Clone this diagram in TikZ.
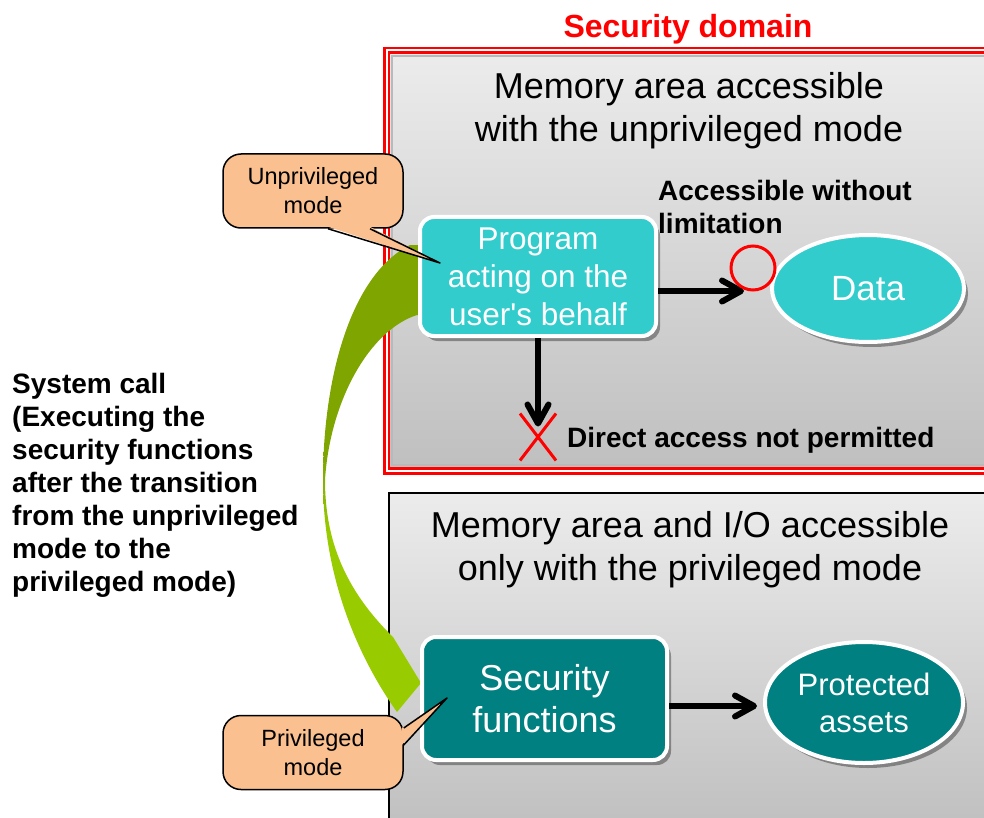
\documentclass[tikz,border=0pt]{standalone}
\usepackage{fontspec}
\setmainfont{Liberation Sans}
\usepackage{tikz}
\usetikzlibrary{arrows.meta,positioning,shapes.geometric,shapes.misc,shadows}
\definecolor{progcyan}{HTML}{33CCCC}
\definecolor{secteal}{HTML}{008080}
\definecolor{peach}{HTML}{FAC090}
\definecolor{callolive}{HTML}{7FA600}
\definecolor{calllime}{HTML}{99CC00}
\pgfdeclareverticalshading{sysband}{100bp}{color(0bp)=(calllime); color(44bp)=(calllime); color(52bp)=(callolive); color(100bp)=(callolive)}

\begin{document}
\begin{tikzpicture}[x=1pt,y=-1pt,>={Straight Barb[length=19pt,width=21pt,round]},
  area/.style={top color=gray!15,bottom color=gray!50},
  ttl/.style={align=center,inner sep=0,font=\fontsize{36}{43}\selectfont},
  lbl/.style={align=left,inner sep=0,font=\fontsize{28}{33}\selectfont\bfseries},
  shd/.style={drop shadow={shadow xshift=4pt,shadow yshift=-5pt,fill=black,opacity=.35}},
  prc/.style={shd,draw=white,line width=4pt,rounded corners=14pt,text=white,align=center},
  dat/.style={shd,ellipse,draw=white,line width=4pt,inner sep=0,text=white,align=center},
  arr/.style={->,line width=6pt,preaction={draw=black,opacity=.3,transform canvas={xshift=2pt,yshift=-2pt}}},
  bub/.style={draw,fill=peach,line width=1.5pt,line join=round,rounded corners=18pt,minimum width=180pt,minimum height=74pt,align=center,font=\fontsize{23.5}{29}\selectfont}]
\useasboundingbox (0,0) rectangle (984,818);

% the two memory areas
\shade[area] (388,52) rectangle (1000,469);
\draw[gray!55,line width=1.5pt] (392,56) rectangle (1000,465);
\draw[red,line width=2.7pt,double=white,double distance=2pt] (386.5,50.5) rectangle (1000,471);
\draw[area,line width=2.5pt] (389,493) rectangle (1000,830);
\node[font=\fontsize{32}{38}\selectfont\bfseries,text=red,inner sep=0] (domain) at (688,29) {Security domain};
\node[ttl] (upper) at (689,111) {Memory area accessible\\with the unprivileged mode};
\node[ttl] (lower) at (690,550) {Memory area and I/O accessible\\only with the privileged mode};

% system call band
\shade[shading=sysband] (430,245) -- (410,245) .. controls (350,275) and (323,380) .. (323,480)
  .. controls (323,580) and (360,660) .. (397,712) -- (421,683) -- (393,637)
  .. controls (345,590) and (325,540) .. (325,480) .. controls (330,400) and (370,330) .. (417,315)
  -- (430,315) -- cycle;
\node[lbl,anchor=west] (syscall) at (12,485) {System call\\(Executing the\\security functions\\after the transition\\from the unprivileged\\mode to the\\privileged mode)};

\node[prc,fill=progcyan,minimum width=236pt,minimum height=119pt,font=\fontsize{31.5}{38}\selectfont] (prog) at (538,276.5) {Program\\acting on the\\user\textquotesingle s behalf};
\node[dat,fill=progcyan,minimum width=192pt,minimum height=107pt,font=\fontsize{35}{42}\selectfont] (data) at (868,288.5) {Data};
\node[prc,fill=secteal,minimum width=245pt,minimum height=123pt,font=\fontsize{36}{42}\selectfont] (sec) at (544.5,698.5) {Security\\functions};
\node[dat,fill=secteal,minimum width=198pt,minimum height=121pt,font=\fontsize{31}{37}\selectfont] (prot) at (864,702.5) {Protected\\assets};

\node[lbl,anchor=west] (okays) at (658,207) {Accessible without\\limitation};
\node[cross out,draw=red,line width=3pt,minimum width=33pt,minimum height=44pt,inner sep=0] (ngmark) at (538,437) {};
\node[lbl,right=11pt of ngmark,yshift=-3pt] (ngsays) {Direct access not permitted};
\coordinate (okin) at (744,291);
\coordinate (protin) at (757,706);

\draw[arr] (prog.east |- okin) -- (okin);
\draw[arr,shorten >=-13pt] (prog.south) -- (ngmark.north);
\draw[arr] (sec.east |- protin) -- (protin);
\node[circle,draw=red,line width=3pt,minimum size=44pt,inner sep=0] (okmark) at (753,268) {};

% mode callouts
\coordinate (utip) at (440,263);
\coordinate (ptip) at (447,698);
\node[bub] (unpriv) at (313,191) {Unprivileged\\mode};
\fill[peach] ([xshift=15pt,yshift=2pt]unpriv.south) -- (utip) -- ([xshift=57pt,yshift=2pt]unpriv.south) -- cycle;
\draw[line width=1.5pt,line join=round] ([xshift=15pt]unpriv.south) -- (utip) -- ([xshift=57pt]unpriv.south);
\node[bub] (priv) at (313,752.5) {Privileged\\mode};
\fill[peach] ([xshift=-2pt,yshift=24.5pt]priv.east) -- (ptip) -- ([xshift=-2pt,yshift=7.5pt]priv.east) -- cycle;
\draw[line width=1.5pt,line join=round] ([yshift=24.5pt]priv.east) -- (ptip) -- ([yshift=7.5pt]priv.east);
\end{tikzpicture}
\end{document}
